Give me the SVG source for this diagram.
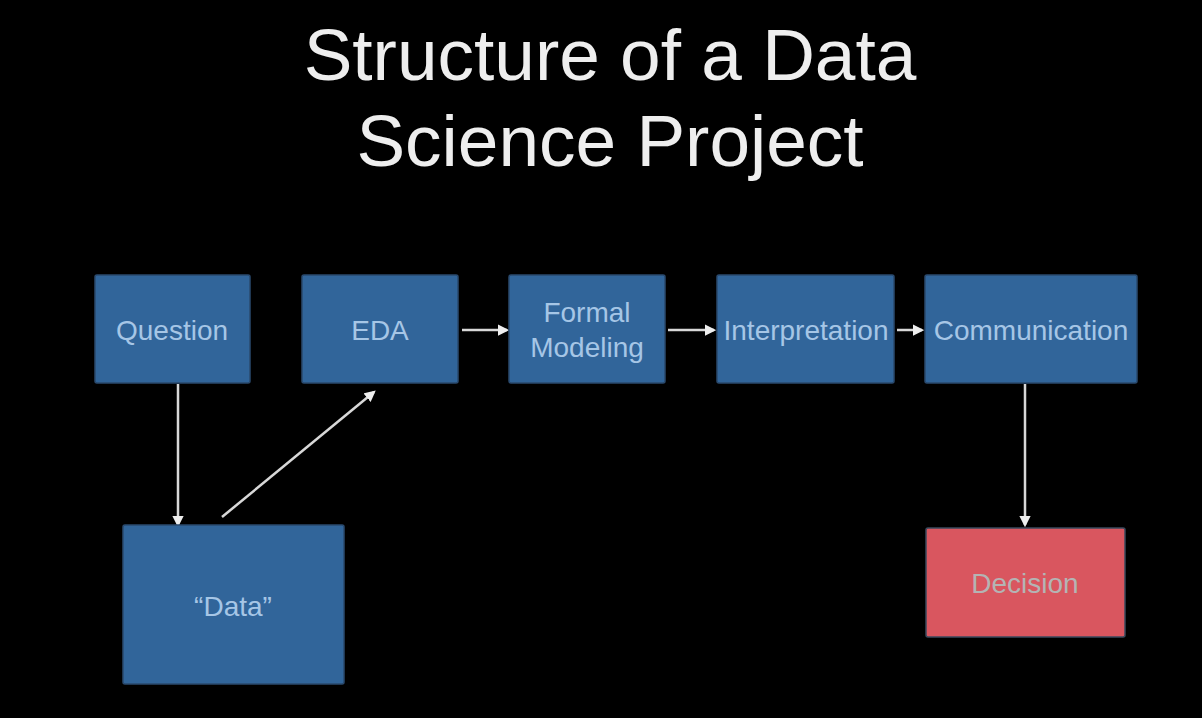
<svg xmlns="http://www.w3.org/2000/svg" width="1202" height="718" viewBox="0 0 1202 718">
<style>
.box{fill:#31659a;stroke:#2a4a6e;stroke-width:1.5}
.dec{fill:#d9565f;stroke:#3a4a5e;stroke-width:1.5}
.lbl{font-family:"Liberation Sans",Arial,sans-serif;font-size:28px;fill:#a6c6e6;text-anchor:middle}
.dlbl{font-family:"Liberation Sans",Arial,sans-serif;font-size:28px;fill:#b4b4b4;text-anchor:middle}
.title{font-family:"Liberation Sans",Arial,sans-serif;font-size:73px;fill:#eeeeee;text-anchor:middle}
.conn{stroke:#d8d8d8;stroke-width:2.5;fill:none;marker-end:url(#ah)}
</style>
<defs>
<marker id="ah" viewBox="0 0 10 10" refX="8" refY="5" markerWidth="4.5" markerHeight="4.5" orient="auto" markerUnits="strokeWidth">
<path d="M0,0 L10,5 L0,10 z" fill="#eeeeee"/>
</marker>
</defs>
<rect width="1202" height="718" fill="#000"/>
<g id="title">
<text class="title" x="610" y="80">Structure of a Data</text>
<text class="title" x="610" y="166">Science Project</text>
</g>
<g id="connectors">
<line class="conn" x1="178" y1="384" x2="178" y2="525"/>
<line class="conn" x1="222" y1="517" x2="374" y2="392"/>
<line class="conn" x1="462" y1="330" x2="507" y2="330"/>
<line class="conn" x1="668" y1="330" x2="714" y2="330"/>
<line class="conn" x1="897" y1="330" x2="922" y2="330"/>
<line class="conn" x1="1025" y1="384" x2="1025" y2="525"/>
</g>
<g id="question"><rect class="box" x="95" y="275" width="155" height="108" rx="2"/><text class="lbl" x="172" y="340">Question</text></g>
<g id="eda"><rect class="box" x="302" y="275" width="156" height="108" rx="2"/><text class="lbl" x="380" y="340">EDA</text></g>
<g id="formal"><rect class="box" x="509" y="275" width="156" height="108" rx="2"/><text class="lbl" x="587" y="322">Formal</text><text class="lbl" x="587" y="357">Modeling</text></g>
<g id="interpretation"><rect class="box" x="717" y="275" width="177" height="108" rx="2"/><text class="lbl" x="806" y="340">Interpretation</text></g>
<g id="communication"><rect class="box" x="925" y="275" width="212" height="108" rx="2"/><text class="lbl" x="1031" y="340">Communication</text></g>
<g id="data"><rect class="box" x="123" y="525" width="221" height="159" rx="2"/><text class="lbl" x="233" y="616">“Data”</text></g>
<g id="decision"><rect class="dec" x="926" y="528" width="199" height="109" rx="2"/><text class="dlbl" x="1025" y="593">Decision</text></g>
</svg>
